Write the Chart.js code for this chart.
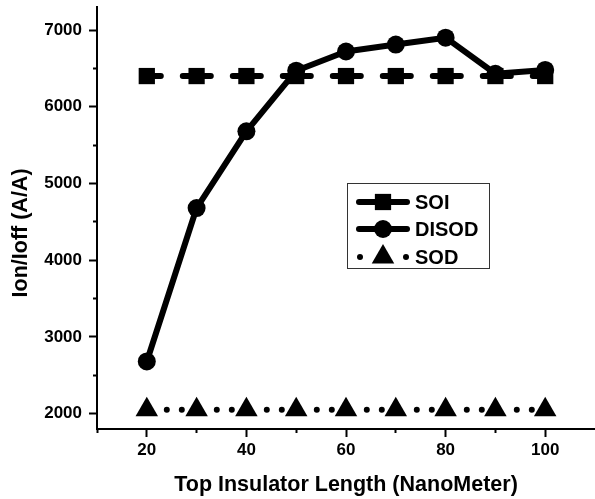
<!DOCTYPE html>
<html><head><meta charset="utf-8">
<script src="https://cdn.jsdelivr.net/npm/chart.js@4.4.1/dist/chart.umd.min.js"></script>
<style>html,body{margin:0;padding:0;background:#fff;} #wrap{width:595px;height:499px;}</style>
</head><body><div id="wrap"><canvas id="c" width="595" height="499"></canvas></div>
<script>
const xValues = [20, 30, 40, 50, 60, 70, 80, 90, 100];
const soiValues = [6400, 6400, 6400, 6400, 6400, 6400, 6400, 6400, 6400];
const disodValues = [2680, 4680, 5680, 6470, 6720, 6810, 6900, 6430, 6480];
const sodValues = [2050, 2050, 2050, 2050, 2050, 2050, 2050, 2050, 2050];
const seriesNames = ['SOI', 'DISOD', 'SOD'];
const xTickLabels = [20, 40, 60, 80, 100];
const xMinorTicks = [10, 30, 50, 70, 90];
const yTickLabels = [2000, 3000, 4000, 5000, 6000, 7000];
const yMinorTicks = [2500, 3500, 4500, 5500, 6500];
const xTitle = 'Top Insulator Length (NanoMeter)';
const yTitle = 'Ion/Ioff (A/A)     ';

const FONT = "'Liberation Sans', Arial, sans-serif";
const toPts = vals => xValues.map((x, i) => ({x: x, y: vals[i]}));
const tickList = (major, minor) => major.concat(minor).sort((a, b) => a - b).map(v => ({value: v}));

const datasets = [
  { label: seriesNames[0], data: toPts(soiValues), borderColor: '#000', backgroundColor: '#000',
    borderWidth: 6, borderDash: [28, 22], borderDashOffset: 14, borderCapStyle: 'round',
    pointStyle: 'rect', pointRadius: 11.5, pointBorderWidth: 0, pointBackgroundColor: '#000' },
  { label: seriesNames[1], data: toPts(disodValues), borderColor: '#000', backgroundColor: '#000',
    borderWidth: 6, borderCapStyle: 'round', borderJoinStyle: 'round',
    pointStyle: 'circle', pointRadius: 9, pointBorderWidth: 0, pointBackgroundColor: '#000' },
  { label: seriesNames[2], data: toPts(sodValues), borderColor: '#000', backgroundColor: '#000',
    borderWidth: 6, borderDash: [0, 15, 0, 35], borderDashOffset: 30, borderCapStyle: 'round',
    pointStyle: 'triangle', pointRadius: 13, pointBorderWidth: 0, pointBackgroundColor: '#000' }
];

const legendRows = [202, 229, 257];
const insetLegend = {
  id: 'insetLegend',
  afterDraw(chart) {
    const ctx = chart.ctx;
    ctx.save();
    ctx.lineWidth = 1;
    ctx.strokeStyle = '#333';
    ctx.strokeRect(347.5, 183.5, 142, 85);
    chart.data.datasets.forEach((ds, i) => {
      const y = legendRows[i];
      ctx.save();
      ctx.strokeStyle = ds.borderColor;
      ctx.fillStyle = ds.borderColor;
      ctx.lineWidth = ds.borderWidth;
      ctx.lineCap = 'round';
      if (ds.pointStyle === 'triangle') {
        [360, 406].forEach(px => { ctx.beginPath(); ctx.arc(px, y, 3, 0, Math.PI * 2); ctx.fill(); });
      } else {
        ctx.beginPath(); ctx.moveTo(359, y); ctx.lineTo(407, y); ctx.stroke();
      }
      Chart.helpers.drawPoint(ctx, {pointStyle: ds.pointStyle, radius: ds.pointRadius, rotation: 0, borderWidth: 0}, 383, y);
      ctx.restore();
      ctx.fillStyle = '#000';
      ctx.font = "bold 20px " + FONT;
      ctx.textAlign = 'left';
      ctx.textBaseline = 'middle';
      ctx.fillText(ds.label, 415, y + 1);
    });
    ctx.restore();
  }
};

new Chart(document.getElementById('c'), {
  type: 'line',
  data: { datasets },
  options: {
    responsive: false,
    animation: false,
    devicePixelRatio: 1,
    layout: { autoPadding: false, padding: { top: 7, right: 0, left: 0, bottom: 0 } },
    plugins: { legend: { display: false }, tooltip: { enabled: false } },
    scales: {
      x: {
        type: 'linear', min: 10, max: 110,
        afterFit: s => { s.height = 70; s.paddingLeft = 0; s.paddingRight = 0; },
        afterBuildTicks: s => { s.ticks = tickList(xTickLabels, xMinorTicks); },
        border: { display: true, color: '#000', width: 2 },
        grid: {
          drawOnChartArea: false, tickLength: 8, tickWidth: 2, tickColor: '#000',
          tickBorderDash: c => (c.tick && xTickLabels.includes(c.tick.value)) ? [] : [3, 100]
        },
        ticks: {
          autoSkip: false, maxRotation: 0, padding: 3, color: '#000',
          font: { family: FONT, size: 17, weight: 'bold' },
          callback: v => xTickLabels.includes(v) ? String(v) : ''
        },
        title: { display: true, text: xTitle, color: '#000',
          font: { family: FONT, size: 21.5, weight: 'bold' }, padding: { top: 0, bottom: 1 } }
      },
      y: {
        type: 'linear', min: 1800, max: 7300,
        afterFit: s => { s.width = 97; s.paddingTop = 0; s.paddingBottom = 0; },
        afterBuildTicks: s => { s.ticks = tickList(yTickLabels, yMinorTicks); },
        border: { display: true, color: '#000', width: 2 },
        grid: {
          drawOnChartArea: false, tickLength: 8, tickWidth: 2, tickColor: '#000',
          tickBorderDash: c => (c.tick && yTickLabels.includes(c.tick.value)) ? [] : [0, 4, 4, 100]
        },
        ticks: {
          autoSkip: false, padding: 7, color: '#000',
          font: { family: FONT, size: 17, weight: 'bold' },
          callback: v => yTickLabels.includes(v) ? String(v) : ''
        },
        title: { display: true, text: yTitle, color: '#000',
          font: { family: FONT, size: 21.5, weight: 'bold' }, padding: { top: 8, bottom: 0 } }
      }
    }
  },
  plugins: [insetLegend]
});
</script></body></html>
